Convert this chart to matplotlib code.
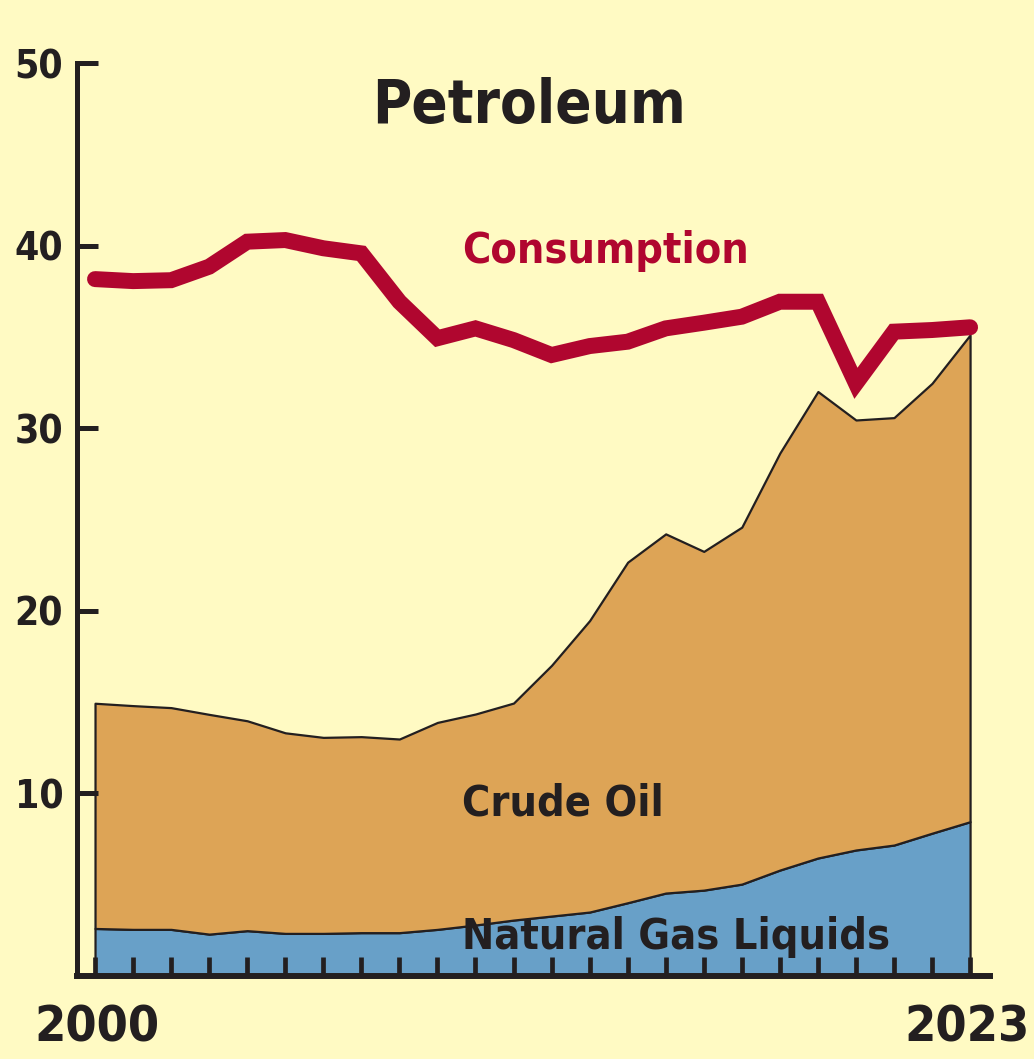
import matplotlib.pyplot as plt
import numpy as np

# petroleum, quadrillion Btu-ish
years = np.arange(2000, 2024)
ngl = [2.58, 2.53, 2.53, 2.27, 2.46, 2.31, 2.31, 2.35, 2.35, 2.53, 2.77, 3.04,
       3.26, 3.48, 3.99, 4.52, 4.68, 5.01, 5.78, 6.44, 6.88, 7.15, 7.80, 8.43]
crude = [12.34, 12.26, 12.15, 12.04, 11.50, 10.99, 10.74, 10.74, 10.61, 11.34, 11.56, 11.89,
         13.74, 15.97, 18.66, 19.68, 18.56, 19.56, 22.85, 25.56, 23.56, 23.42, 24.65, 26.67]
consumption = [38.16, 38.05, 38.10, 38.84, 40.21, 40.30, 39.85, 39.57, 36.92, 34.92, 35.46, 34.82,
               34.00, 34.49, 34.73, 35.46, 35.77, 36.10, 36.92, 36.92, 32.45, 35.28, 35.37, 35.52]
yticks = [10, 20, 30, 40, 50]

bg = '#FFFAC3'
dark = '#231F20'
plt.rcParams['font.family'] = ['DejaVu Sans']
plt.rcParams['font.stretch'] = 'condensed'
plt.rcParams['font.weight'] = 'bold'

fig = plt.figure(figsize=(10.34, 10.59), dpi=100, facecolor=bg)
ax = fig.add_axes([0.0745, 0.0788, 0.883, 0.8617], facecolor=bg)

ngl = np.array(ngl)
total = ngl + np.array(crude)

# stacked areas
ax.fill_between(years, 0, ngl, facecolor='#68A0C8', edgecolor=dark, linewidth=1.6)
ax.fill_between(years, ngl, total, facecolor='#DDA456', edgecolor=dark, linewidth=1.6)

# consumption line
ax.plot(years, consumption, color='#B0062F', linewidth=11.5, solid_capstyle='round',
        solid_joinstyle='miter', clip_on=False, zorder=5)

ax.set_xlim(2000 - 18 / 38.07, 2023 + 20 / 38.07)
ax.set_ylim(0, 50)

for s in ['top', 'right']:
    ax.spines[s].set_visible(False)
ax.spines['left'].set_linewidth(3.6)
ax.spines['bottom'].set_linewidth(4.3)
ax.spines['left'].set_color(dark)
ax.spines['bottom'].set_color(dark)

ax.set_yticks(yticks)
ax.set_yticklabels([str(v) for v in yticks])
ax.tick_params(axis='y', direction='in', length=15, width=3.6, color=dark,
               labelsize=28, labelcolor=dark, pad=10)

ax.set_xticks(years)
ax.set_xticklabels([])
ax.tick_params(axis='x', direction='in', length=14, width=3.4, color=dark)

# end year labels
ax.text(2000.06, -3.59, '2000', fontsize=36, color=dark, ha='center', va='baseline', clip_on=False)
ax.text(2022.92, -3.59, '2023', fontsize=36, color=dark, ha='center', va='baseline', clip_on=False)

# labels
ax.text(2011.4, 46.73, 'Petroleum', fontsize=43, color=dark, ha='center', va='baseline')
ax.text(2009.65, 39.06, 'Consumption', fontsize=31, color='#B0062F', ha='left', va='baseline')
ax.text(2009.65, 8.79, 'Crude Oil', fontsize=31, color=dark, ha='left', va='baseline')
ax.text(2009.65, 1.45, 'Natural Gas Liquids', fontsize=31, color=dark, ha='left', va='baseline')

plt.savefig('out.png', dpi=100, facecolor=bg)
